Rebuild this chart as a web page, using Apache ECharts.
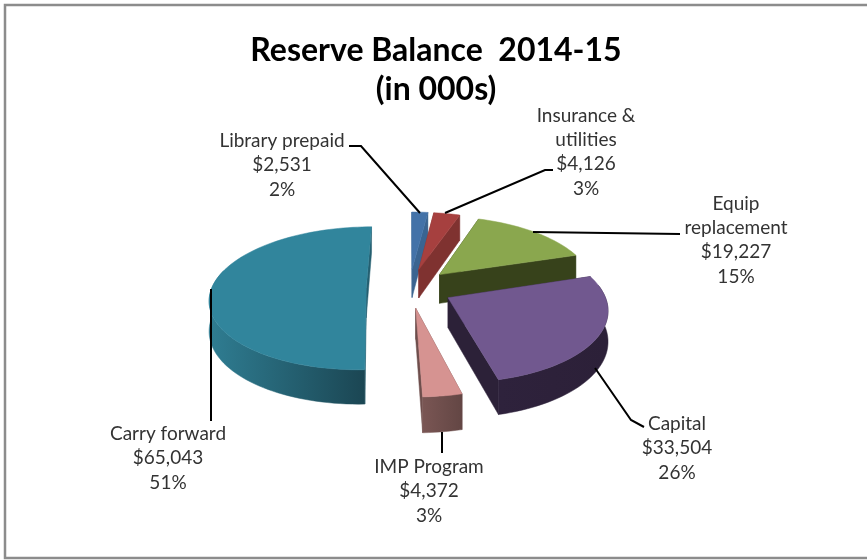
<!DOCTYPE html>
<html>
<head>
<meta charset="utf-8">
<style>html,body{margin:0;padding:0;background:#fff}#chart{width:867px;height:560px}</style>
<script src="https://cdn.jsdelivr.net/npm/echarts@6/dist/echarts.min.js"></script>
</head>
<body>
<div id="chart"></div>
<script>
// Reserve balances, in thousands of dollars
const categories = ['Library prepaid', 'Insurance & utilities', 'Equip replacement', 'Capital', 'IMP Program', 'Carry forward'];
const labelNames = ['Library prepaid', 'Insurance &\nutilities', 'Equip\nreplacement', 'Capital', 'IMP Program', 'Carry forward'];
const balances = [2531, 4126, 19227, 33504, 4372, 65043];
const percentLabels = ['2%', '3%', '15%', '26%', '3%', '51%'];

// Slice colours: top face, cut face, rim wall (left and right ends)
const topColors = ['#4372A8', '#A6403F', '#8AA74E', '#71588F', '#D69391', '#31859C'];
const cutColors = ['#3A6491', '#7F3230', '#37421B', '#2C2138', '#6E4E4C', '#245F70'];
const rimColors = [['#3A6491', '#3A6491'], ['#7F3230', '#7F3230'], ['#37421B', '#37421B'],
                   ['#2E223C', '#2C2038'], ['#7A5654', '#634644'], ['#2F7D92', '#1B4653']];
// Back-to-front painting order per slice
const paintOrder = [0, 1, 2, 4, 5, 3];

// Where each caption sits, and the leader line tying it to its slice
const captionCenters = [[282, 165], [586, 152], [736, 240], [677, 448], [429, 491], [168, 458]];
const leaderPaths = [
  [[349, 146], [361, 146], [420, 213]],
  [[553, 170], [545, 170], [445, 213]],
  [[533, 232], [680, 234]],
  [[595, 368], [631, 420], [644, 427]],
  [[442, 432], [442, 453]],
  [[211, 289], [211, 421]]
];

// Projection of the tilted disc onto the page
const cx = 409.5, cy = 288, radiusX = 154.5, radiusY = 70, depth = 29.5, perspective = 0.14, explode = 0.28;

function project(u, v, z) {
  const s = 1 / (1 + perspective * v);
  return [cx + radiusX * u * s, cy - radiusY * v * s + depth * z * s];
}

const total = balances.reduce((a, b) => a + b, 0);
const rad = d => d * Math.PI / 180;

function sliceElements(i, startDeg, endDeg, order) {
  const mid = rad((startDeg + endDeg) / 2);
  const ox = explode * Math.sin(mid), oy = explode * Math.cos(mid);
  const rimPoint = (deg, z) => project(ox + Math.sin(rad(deg)), oy + Math.cos(rad(deg)), z);
  const apex = z => project(ox, oy, z);
  const arc = (a, b, z) => {
    const pts = [];
    const n = Math.max(2, Math.ceil((b - a) / 2));
    for (let k = 0; k <= n; k++) pts.push(rimPoint(a + (b - a) * k / n, z));
    return pts;
  };
  const base = (order + 1) * 10;
  const out = [];
  const poly = (points, fill, z2) => out.push({
    type: 'polygon', shape: { points }, z2,
    style: { fill, stroke: fill, lineWidth: 0.5 }
  });
  poly([apex(0), rimPoint(startDeg, 0), rimPoint(startDeg, 1), apex(1)], cutColors[i], base);
  poly([apex(0), rimPoint(endDeg, 0), rimPoint(endDeg, 1), apex(1)], cutColors[i], base + 1);
  const a = Math.max(startDeg, 80), b = Math.min(endDeg, 285);
  if (b > a) {
    const top = arc(a, b, 0), bottom = arc(a, b, 1).reverse();
    // Gradient runs left to right across the wall's width
    const fill = new echarts.graphic.LinearGradient(0, 0, 1, 0, [
      { offset: 0, color: rimColors[i][0] },
      { offset: 1, color: rimColors[i][1] }
    ]);
    poly(top.concat(bottom), fill, base + 2);
  }
  poly([apex(0)].concat(arc(startDeg, endDeg, 0)), topColors[i], base + 3);
  return out;
}

let running = 0;
const sliceSpans = balances.map(v => {
  const span = [running, running + v / total * 360];
  running = span[1];
  return span;
});

function renderSlice(params, api) {
  const i = params.dataIndex;
  const children = sliceElements(i, sliceSpans[i][0], sliceSpans[i][1], paintOrder[i]);
  children.push({
    type: 'polyline', z2: 200,
    shape: { points: leaderPaths[i] },
    style: { stroke: '#000', lineWidth: 2, fill: null }
  });
  children.push({
    type: 'text', z2: 201,
    style: {
      x: captionCenters[i][0], y: captionCenters[i][1],
      text: labelNames[i] + '\n$' + api.value(0).toLocaleString('en-US') + '\n' + percentLabels[i],
      align: 'center', verticalAlign: 'middle',
      fontFamily: 'Lato', fontSize: 19, lineHeight: 24.4, fill: '#333'
    }
  });
  return { type: 'group', children };
}

const chart = echarts.init(document.getElementById('chart'), null, { renderer: 'canvas' });
chart.setOption({
  animation: false,
  backgroundColor: '#fff',
  title: {
    text: 'Reserve Balance  2014-15\n(in 000s)',
    left: 431, top: 26, textAlign: 'center',
    textStyle: { fontFamily: 'Lato', fontSize: 32, fontWeight: 'bold', lineHeight: 39, color: '#000' }
  },
  graphic: [{
    type: 'rect', silent: true, z: -1,
    shape: { x: 5, y: 5, width: 890, height: 553 },
    style: { fill: '#fff', stroke: '#8c8c8c', lineWidth: 2.5 }
  }],
  series: [{
    type: 'custom',
    coordinateSystem: 'none',
    silent: true,
    renderItem: renderSlice,
    data: balances.map((v, i) => ({ name: categories[i], value: [v] }))
  }]
});
</script>
</body>
</html>
